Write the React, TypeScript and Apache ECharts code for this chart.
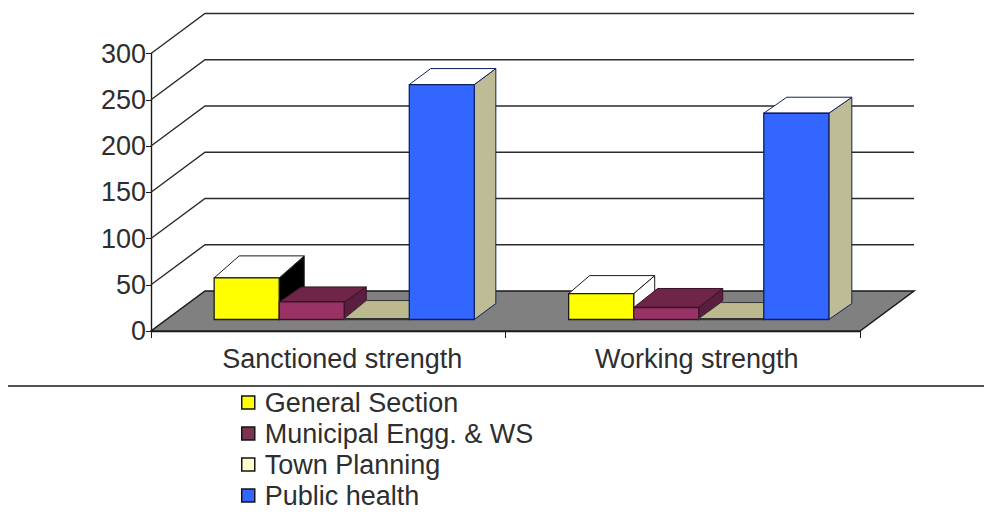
import React, { useEffect, useRef } from "react";
import * as echarts from "echarts";

const categories = ["Sanctioned strength", "Working strength"];
const generalSection = [45, 28];
const municipalEngg = [19, 13];
const townPlanning = [1, 1];
const publicHealth = [254, 223];
const yTicks = [0, 50, 100, 150, 200, 250, 300];

const FONT = "'Liberation Sans', Arial, sans-serif";
const INK = "#2e2e2e";
const WALL_DX = 54;
const WALL_DY = -40;
// Columns sit part of the way back on the floor.
const BAR_DX = 16;
const BAR_DY = -11.5;
const GAP_RATIO = 5.45;

type Face = {
  name: string;
  values: number[];
  legend: string;
  front: string;
  top: string[];
  side: string[];
  stroke: string;
  depth: [number, number][];
};

const columns: Face[] = [
  {
    name: "General Section",
    values: generalSection,
    legend: "#FFFF00",
    front: "#FFFF00",
    top: ["#FFFFFF", "#FFFFFF"],
    side: ["#000000", "#FFFFFF"],
    stroke: "#1c1c1c",
    depth: [[25, 22], [21, 18]],
  },
  {
    name: "Municipal Engg. & WS",
    values: municipalEngg,
    legend: "#7A3350",
    front: "#993366",
    top: ["#6F2548", "#6F2548"],
    side: ["#5A1F3E", "#5A1F3E"],
    stroke: "#3a1228",
    depth: [[22, 15], [24, 19]],
  },
  {
    name: "Town Planning",
    values: townPlanning,
    legend: "#FFFFCC",
    front: "#FFFFCC",
    top: ["#BDB98F", "#BDB98F"],
    side: ["#9C9974", "#9C9974"],
    stroke: "#333333",
    depth: [[22, 18], [22, 16]],
  },
  {
    name: "Public health",
    values: publicHealth,
    legend: "#3366FF",
    front: "#3366FF",
    top: ["#FFFFFF", "#FFFFFF"],
    side: ["#BEBC97", "#BEBC97"],
    stroke: "#10205f",
    depth: [[21.5, 16], [23, 16]],
  },
];

const poly = (points: number[][], fill: string, stroke: string, lineWidth = 1) => ({
  type: "polygon",
  shape: { points },
  style: { fill, stroke, lineWidth },
  silent: true,
});

function floorAndWalls(params: any, api: any) {
  const sys = params.coordSys;
  const value = api.value(1);
  const y = api.coord([0, value])[1];
  const left = sys.x;
  const right = sys.x + sys.width;
  if (value === 0) {
    return poly(
      [
        [left, y],
        [right, y],
        [right + WALL_DX, y + WALL_DY],
        [left + WALL_DX, y + WALL_DY],
      ],
      "#808080",
      "#1a1a1a",
      1.5
    );
  }
  return {
    type: "polyline",
    shape: {
      points: [
        [left, y],
        [left + WALL_DX, y + WALL_DY],
        [right + WALL_DX, y + WALL_DY],
      ],
    },
    style: { fill: "none", stroke: "#2a2a2a", lineWidth: 1.4 },
    silent: true,
  };
}

const columnRenderer = (seriesIndex: number) => (_params: any, api: any) => {
  const col = columns[seriesIndex];
  const cat = api.value(0);
  const band = api.size([1, 0])[0];
  const w = band / GAP_RATIO;
  const center = api.coord([cat, 0]);
  const head = api.coord([cat, api.value(1)]);
  const x0 = center[0] + BAR_DX + (seriesIndex - 2) * w;
  const x1 = x0 + w;
  const yBase = center[1] + BAR_DY;
  const yTop = head[1] + BAR_DY;
  const [dx, dy] = col.depth[cat];
  return {
    type: "group",
    children: [
      poly(
        [
          [x1, yTop],
          [x1 + dx, yTop - dy],
          [x1 + dx, yBase - dy],
          [x1, yBase],
        ],
        col.side[cat],
        col.stroke
      ),
      poly(
        [
          [x0, yTop],
          [x0 + dx, yTop - dy],
          [x1 + dx, yTop - dy],
          [x1, yTop],
        ],
        col.top[cat],
        col.stroke
      ),
      poly(
        [
          [x0, yTop],
          [x1, yTop],
          [x1, yBase],
          [x0, yBase],
        ],
        col.front,
        col.stroke,
        1.3
      ),
    ],
  };
};

export default function App() {
  const ref = useRef<HTMLDivElement>(null);

  useEffect(() => {
    const chart = echarts.init(ref.current!, null, { renderer: "svg" });
    chart.setOption({
      animation: false,
      backgroundColor: "#FFFFFF",
      grid: { left: 151, right: 124, top: 53.5, bottom: 187 },
      xAxis: {
        type: "category",
        data: categories,
        axisLine: { lineStyle: { color: "#1a1a1a", width: 1.4 } },
        axisTick: { show: true, length: 7, alignWithLabel: false, lineStyle: { color: "#1a1a1a" } },
        axisLabel: {
          color: INK,
          fontFamily: FONT,
          fontSize: 27,
          margin: 14,
          padding: [0, 0, 0, 28],
        },
      },
      yAxis: {
        type: "value",
        min: 0,
        max: 300,
        interval: 50,
        axisLine: { show: true, lineStyle: { color: "#1a1a1a", width: 1.4 } },
        axisTick: { show: true, length: 5, lineStyle: { color: "#1a1a1a" } },
        splitLine: { show: false },
        axisLabel: { color: INK, fontFamily: FONT, fontSize: 27, margin: 5 },
      },
      legend: {
        orient: "vertical",
        left: 241,
        top: 389,
        padding: 0,
        itemWidth: 13,
        itemHeight: 13,
        itemGap: 4,
        icon: "rect",
        itemStyle: { borderColor: "#151515", borderWidth: 1.5 },
        textStyle: {
          color: INK,
          fontFamily: FONT,
          fontSize: 27,
          padding: [0, 0, 0, 5],
        },
        data: columns.map((c) => c.name),
      },
      series: [
        {
          type: "custom",
          name: "walls",
          z: 1,
          silent: true,
          renderItem: floorAndWalls,
          data: [...yTicks].reverse().map((v) => [0, v]),
        },
        ...columns.map((c, i) => ({
          type: "custom",
          name: c.name,
          z: 2 + i,
          silent: true,
          itemStyle: { color: c.legend },
          renderItem: columnRenderer(i),
          data: c.values.map((v, cat) => [cat, v]),
        })),
      ],
      graphic: [
        {
          type: "line",
          shape: { x1: 8, y1: 386, x2: 984, y2: 386 },
          style: { stroke: "#1a1a1a", lineWidth: 1.5 },
        },
      ],
    });
    return () => chart.dispose();
  }, []);

  return (
    <div
      ref={ref}
      style={{ position: "fixed", left: 0, top: 0, width: 984, height: 518, background: "#FFFFFF" }}
    />
  );
}
